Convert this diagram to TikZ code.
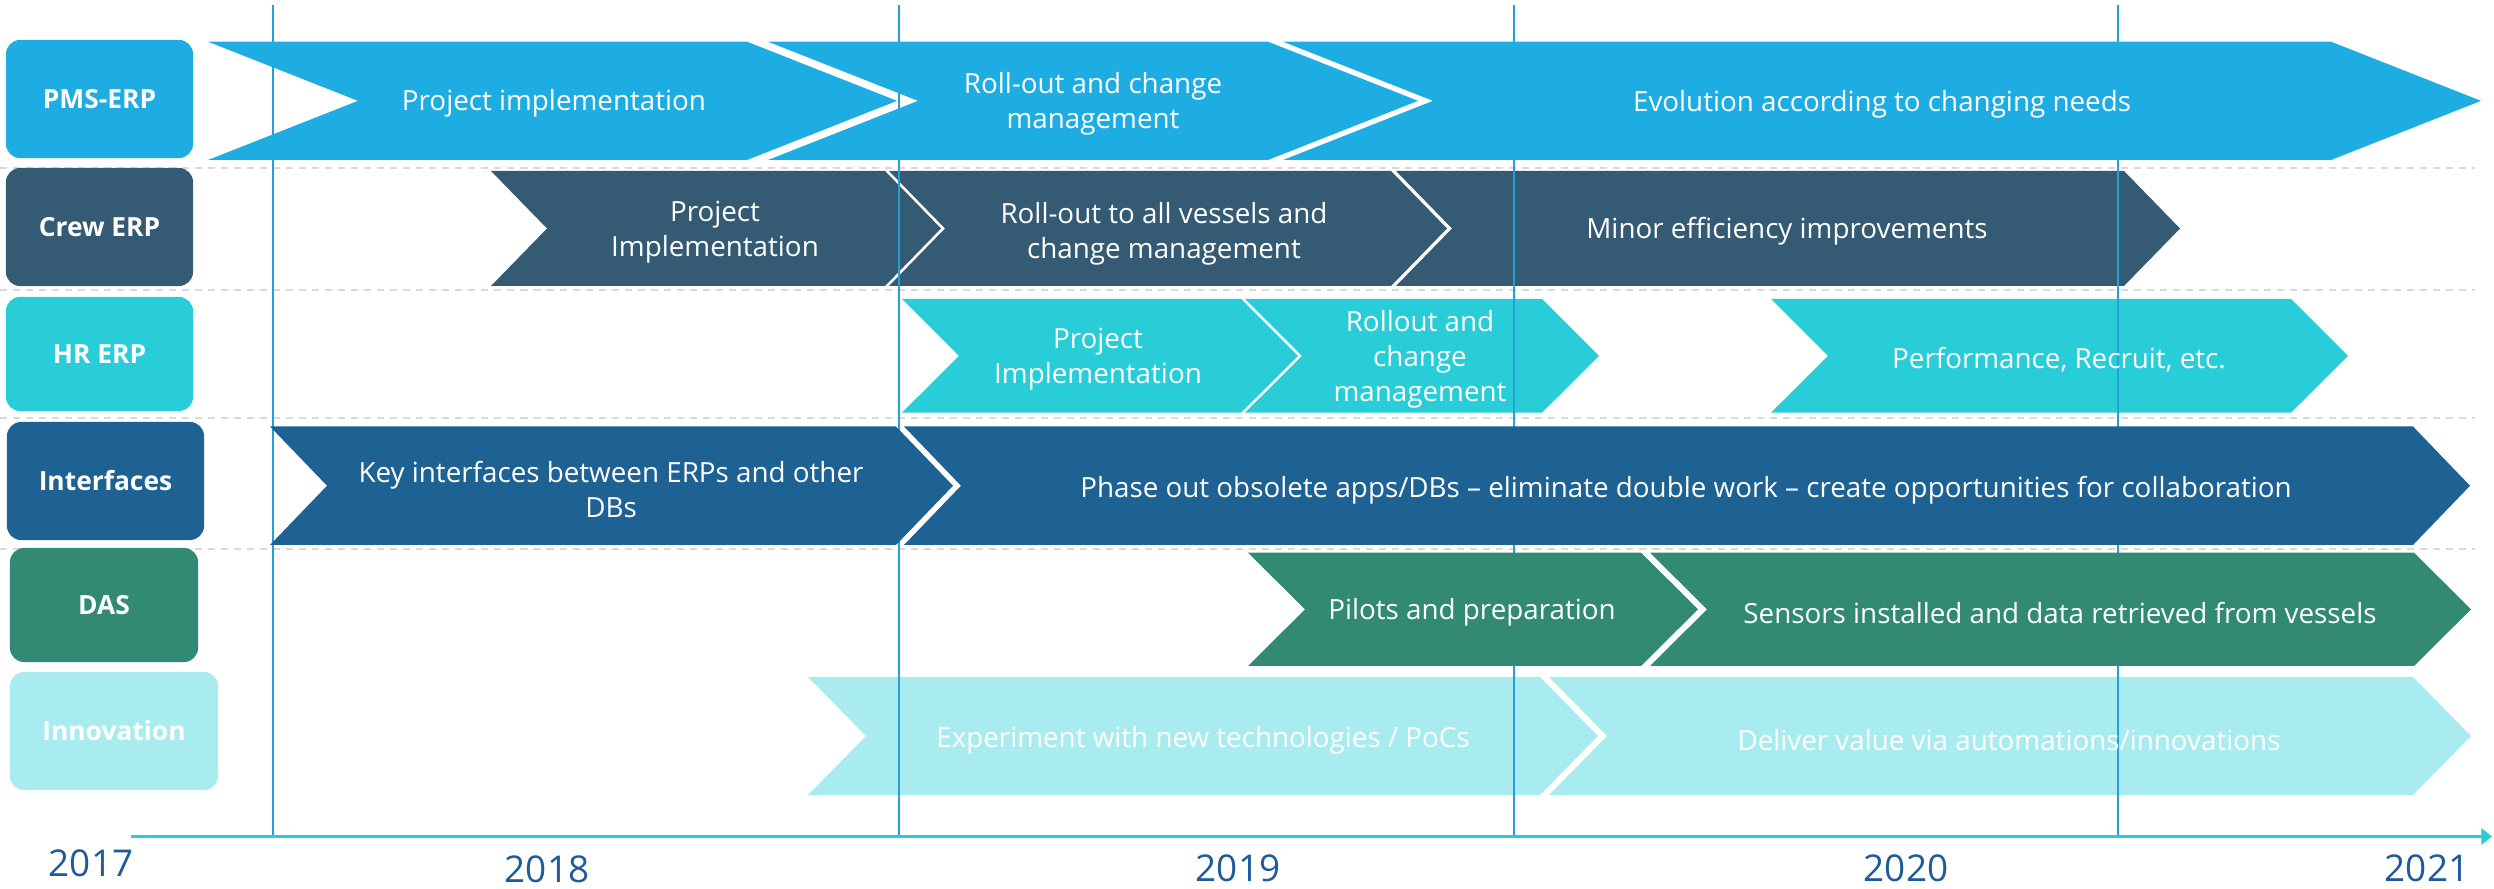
\documentclass[tikz,border=0pt]{standalone}
\usepackage{fontspec}
\setmainfont{Open Sans}
\usepackage{tikz}
\usetikzlibrary{arrows.meta}
\definecolor{pms}{HTML}{1EADE3}
\definecolor{crew}{HTML}{345B73}
\definecolor{hr}{HTML}{29CDD7}
\definecolor{intf}{HTML}{1E6294}
\definecolor{das}{HTML}{318A71}
\definecolor{innov}{HTML}{A9ECEF}
\definecolor{yearblue}{HTML}{1F5A9A}
\definecolor{gridblue}{HTML}{239FD9}
\definecolor{axiscyan}{HTML}{29CCD8}
\definecolor{sepgray}{HTML}{D9D9D9}
% colour, left, right, top, bottom, depth of the point
\newcommand{\chevron}[6]{\fill[#1] (#2,#4) -- (#3,#4) -- ({#3+#6},{(#4+#5)/2}) -- (#3,#5) -- (#2,#5) -- ({#2+#6},{(#4+#5)/2}) -- cycle;}

\begin{document}
\begin{tikzpicture}[x=0.01cm,y=-0.01cm,
    phase/.style={text=white,align=center,inner sep=0pt,yshift=-1pt,font=\fontsize{7.9}{10}\selectfont},
    lanelabel/.style={rounded corners=4pt,text=white,inner sep=0pt,font=\bfseries\fontsize{7.5}{10}\selectfont},
    yearlabel/.style={text=yearblue,inner sep=0pt,font=\fontsize{10.5}{12}\selectfont},
    lanesep/.style={sepgray,line width=0.57pt,dash pattern=on 2pt off 1.7pt},
    yearline/.style={gridblue,line width=0.57pt}]
  \useasboundingbox (0,0) rectangle (2494,889);

  % lane separators
  \draw[lanesep] (0,167.7) -- (2475,167.7);
  \draw[lanesep] (0,290) -- (2475,290);
  \draw[lanesep] (0,417.7) -- (2475,417.7);
  \draw[lanesep] (0,549.3) -- (2475,549.3);

  % lanes below the year lines
  \chevron{crew}{491}{885}{171}{286}{56}
  \chevron{crew}{889}{1391}{171}{286}{56}
  \chevron{crew}{1396}{2124}{171}{286}{56}
  \chevron{hr}{902}{1241}{299}{412.7}{57}
  \chevron{hr}{1245}{1542}{299}{412.7}{57}
  \chevron{hr}{1771}{2291}{299}{412.7}{57}
  \chevron{innov}{808}{1540}{677}{795}{58}
  \chevron{innov}{1549}{2413}{677}{795}{58}

  % year lines
  \draw[yearline] (272.7,5) -- (272.7,836);
  \draw[yearline] (898.7,5) -- (898.7,836);
  \draw[yearline] (1513.5,5) -- (1513.5,836);
  \draw[yearline] (2117.7,5) -- (2117.7,836);

  % lanes above the year lines
  \chevron{pms}{208}{747}{41.7}{160}{150}
  \chevron{pms}{768}{1268}{41.7}{160}{150}
  \chevron{pms}{1283}{2331}{41.7}{160}{150}
  \chevron{intf}{270}{896}{426.5}{545}{57}
  \chevron{intf}{904}{2413}{426.5}{545}{57}
  \chevron{das}{1248}{1641}{552.7}{666}{57}
  \chevron{das}{1650}{2414}{552.7}{666}{57}

  % row labels
  \node[lanelabel,fill=pms,minimum width=1.87cm,minimum height=1.18cm] (pms) at (99.5,99) {PMS-ERP};
  \node[lanelabel,fill=crew,minimum width=1.87cm,minimum height=1.18cm] (crew) at (99.5,227) {Crew ERP};
  \node[lanelabel,fill=hr,minimum width=1.87cm,minimum height=1.14cm] (hr) at (99.5,354) {HR ERP};
  \node[lanelabel,fill=intf,minimum width=1.97cm,minimum height=1.18cm] (intf) at (105.5,481) {Interfaces};
  \node[lanelabel,fill=das,minimum width=1.88cm,minimum height=1.14cm] (das) at (104,605) {DAS};
  \node[lanelabel,fill=innov,minimum width=2.08cm,minimum height=1.18cm] (innov) at (114,731) {Innovation};

  % phases
  \node[phase] (pmsA) at (554,100) {Project implementation};
  \node[phase] (pmsB) at (1093,100) {Roll-out and change\\management};
  \node[phase] (pmsC) at (1882,101) {Evolution according to changing needs};
  \node[phase] (crewA) at (715,229) {Project\\Implementation};
  \node[phase] (crewB) at (1164,230) {Roll-out to all vessels and\\change management};
  \node[phase] (crewC) at (1787,228) {Minor efficiency improvements};
  \node[phase] (hrA) at (1098,356) {Project\\Implementation};
  \node[phase] (hrB) at (1420,356) {Rollout and\\change\\management};
  \node[phase] (hrC) at (2059,356) {Performance, Recruit, etc.};
  \node[phase] (intfA) at (611,486) {Key interfaces between ERPs and other\\DBs};
  \node[phase] (intfB) at (1686,487) {Phase out obsolete apps/DBs – eliminate double work – create opportunities for collaboration};
  \node[phase] (dasA) at (1472,609) {Pilots and preparation};
  \node[phase] (dasB) at (2060,609) {Sensors installed and data retrieved from vessels};
  \node[phase] (innovA) at (1203,737) {Experiment with new technologies / PoCs};
  \node[phase] (innovB) at (2009,737) {Deliver value via automations/innovations};

  % time axis
  \coordinate (t0) at (131,836.5);
  \coordinate (t1) at (2492,836.5);
  \draw[axiscyan,line width=0.85pt,-{Triangle[length=3pt,width=4.5pt]}] (t0) -- (t1);
  \node[yearlabel] (y2017) at (91,863) {2017};
  \node[yearlabel] (y2018) at (547,869) {2018};
  \node[yearlabel] (y2019) at (1238,868) {2019};
  \node[yearlabel] (y2020) at (1906,868) {2020};
  \node[yearlabel] (y2021) at (2427,868) {2021};
\end{tikzpicture}
\end{document}
